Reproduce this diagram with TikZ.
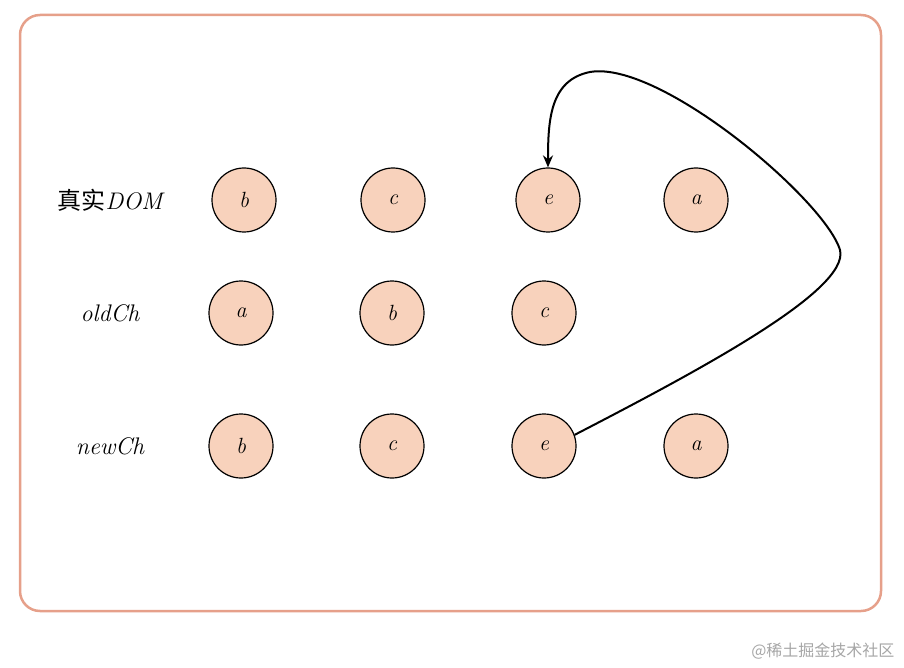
\documentclass[tikz,border=0pt]{standalone}
\usepackage{fontspec}
\newfontfamily\cjk{Noto Sans CJK SC}
\usetikzlibrary{arrows.meta}
\definecolor{frame}{HTML}{E6A08A}
\definecolor{nodefill}{HTML}{F8D2BC}
\begin{document}
\begin{tikzpicture}[x=1pt,y=-1pt,
  nd/.style={circle,draw=black,fill=nodefill,line width=1.2pt,minimum size=64pt,inner sep=0pt,font=\fontsize{22}{26}\selectfont\itshape},
  lbl/.style={font=\fontsize{24}{28}\selectfont\itshape}]
\useasboundingbox (0,0) rectangle (904,668);
\draw[frame,line width=2.5pt,rounded corners=20pt] (20,15) rectangle (881,611);
\node[lbl] (l1) at (110,200) {{\cjk 真实}DOM};
\node[lbl] (l2) at (110,313) {oldCh};
\node[lbl] (l3) at (110,446) {newCh};
\node[nd] (r1b) at (244,200) {b};
\node[nd] (r1c) at (393,200) {c};
\node[nd] (r1e) at (548,200) {e};
\node[nd] (r1a) at (696,200) {a};
\node[nd] (r2a) at (241,313) {a};
\node[nd] (r2b) at (392,313) {b};
\node[nd] (r2c) at (544,313) {c};
\node[nd] (r3b) at (241,446) {b};
\node[nd] (r3c) at (392,446) {c};
\node[nd] (r3e) at (544,446) {e};
\node[nd] (r3a) at (696,446) {a};
\draw[line width=2pt,-{Stealth[length=12pt,width=10pt]}] (r3e.20) .. controls (700,370) and (850,290) .. (840,250)
  .. controls (825,200) and (660,60) .. (590,72) .. controls (550,80) and (548,120) .. (r1e.north);
\node[text=gray!70,font=\cjk\fontsize{16}{18}\selectfont,anchor=east] (wm) at (898,651) {@稀土掘金技术社区};
\end{tikzpicture}
\end{document}
